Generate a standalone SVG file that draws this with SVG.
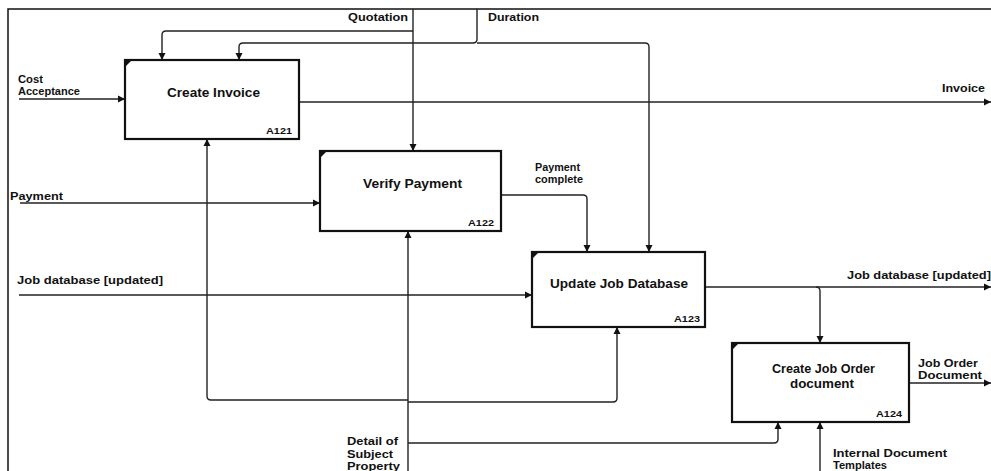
<svg xmlns="http://www.w3.org/2000/svg" width="991" height="471" viewBox="0 0 991 471">
<style>
.box{fill:#fff;stroke:#111;stroke-width:2.2}
.c{fill:none;stroke:#222;stroke-width:1.4}
.t{font-family:"Liberation Sans",Arial,sans-serif;font-weight:bold;font-size:12px;fill:#111}
.l{font-family:"Liberation Sans",Arial,sans-serif;font-weight:bold;font-size:10px;fill:#111}
.id{font-family:"Liberation Sans",Arial,sans-serif;font-weight:bold;font-size:9px;fill:#111}
.tri{fill:#111}
</style>
<defs>
<marker id="a" markerWidth="8" markerHeight="8" refX="7" refY="4" orient="auto" markerUnits="userSpaceOnUse">
<path d="M0,0.5 L7,4 L0,7.5 Z" fill="#111"/>
</marker>
</defs>
<rect x="0" y="0" width="991" height="471" fill="#fff"/>
<path d="M8,471 V9 H991" fill="none" stroke="#111" stroke-width="1.5"/>

<g id="connectors">
<path class="c" d="M413,9 V151" marker-end="url(#a)"/>
<path class="c" d="M413,31 H166 Q162,31 162,35 V60" marker-end="url(#a)"/>
<path class="c" d="M477,9 V39 Q477,43 473,43 H243 Q239,43 239,47 V60" marker-end="url(#a)"/>
<path class="c" d="M477,43 H645 Q649,43 649,47 V252" marker-end="url(#a)"/>
<path class="c" d="M19,99 H125" marker-end="url(#a)"/>
<path class="c" d="M299,102 H991" marker-end="url(#a)"/>
<path class="c" d="M20,203 H320" marker-end="url(#a)"/>
<path class="c" d="M19,295 H532" marker-end="url(#a)"/>
<path class="c" d="M501,195 H583 Q587,195 587,199 V252" marker-end="url(#a)"/>
<path class="c" d="M408,471 V231" marker-end="url(#a)"/>
<path class="c" d="M408,400 H211 Q207,400 207,396 V139" marker-end="url(#a)"/>
<path class="c" d="M408,402 H613 Q617,402 617,398 V327" marker-end="url(#a)"/>
<path class="c" d="M408,443 H774 Q778,443 778,439 V422" marker-end="url(#a)"/>
<path class="c" d="M705,287 H991" marker-end="url(#a)"/>
<path class="c" d="M816,287 Q820,287 820,291 V343" marker-end="url(#a)"/>
<path class="c" d="M909,383 H991" marker-end="url(#a)"/>
<path class="c" d="M820,471 V422" marker-end="url(#a)"/>
</g>

<g id="labels">
<text class="l" x="348" y="21" textLength="60" lengthAdjust="spacingAndGlyphs">Quotation</text>
<text class="l" x="488" y="21" textLength="51" lengthAdjust="spacingAndGlyphs">Duration</text>
<text class="l" x="18" y="83" textLength="25" lengthAdjust="spacingAndGlyphs">Cost</text>
<text class="l" x="18" y="95" textLength="62" lengthAdjust="spacingAndGlyphs">Acceptance</text>
<text class="l" x="942" y="92" textLength="43" lengthAdjust="spacingAndGlyphs">Invoice</text>
<text class="l" x="10" y="200" textLength="53" lengthAdjust="spacingAndGlyphs">Payment</text>
<text class="l" x="17" y="284" textLength="146" lengthAdjust="spacingAndGlyphs">Job database [updated]</text>
<text class="l" x="535" y="171" font-size="9" textLength="45" lengthAdjust="spacingAndGlyphs">Payment</text>
<text class="l" x="535" y="183" font-size="9" textLength="48" lengthAdjust="spacingAndGlyphs">complete</text>
<text class="l" x="847" y="279" textLength="144" lengthAdjust="spacingAndGlyphs">Job database [updated]</text>
<text class="l" x="918" y="367" textLength="60" lengthAdjust="spacingAndGlyphs">Job Order</text>
<text class="l" x="918" y="379" textLength="64" lengthAdjust="spacingAndGlyphs">Document</text>
<text class="l" x="347" y="445" textLength="51" lengthAdjust="spacingAndGlyphs">Detail of</text>
<text class="l" x="347" y="458" textLength="46" lengthAdjust="spacingAndGlyphs">Subject</text>
<text class="l" x="347" y="470" textLength="53" lengthAdjust="spacingAndGlyphs">Property</text>
<text class="l" x="833" y="457" textLength="114" lengthAdjust="spacingAndGlyphs">Internal Document</text>
<text class="l" x="833" y="469" textLength="54" lengthAdjust="spacingAndGlyphs">Templates</text>
</g>

<g id="A121">
<rect class="box" x="125" y="60" width="174" height="79"/>
<path class="tri" d="M126,61 h5 l-5,5 z"/>
<text class="t" x="167" y="97" textLength="93" lengthAdjust="spacingAndGlyphs">Create Invoice</text>
<text class="id" x="266" y="134" textLength="26" lengthAdjust="spacingAndGlyphs">A121</text>
</g>

<g id="A122">
<rect class="box" x="320" y="151" width="181" height="80"/>
<path class="tri" d="M321,152 h5 l-5,5 z"/>
<text class="t" x="363" y="188" textLength="99" lengthAdjust="spacingAndGlyphs">Verify Payment</text>
<text class="id" x="468" y="226" textLength="26" lengthAdjust="spacingAndGlyphs">A122</text>
</g>

<g id="A123">
<rect class="box" x="532" y="252" width="173" height="75"/>
<path class="tri" d="M533,253 h5 l-5,5 z"/>
<text class="t" x="550" y="288" textLength="138" lengthAdjust="spacingAndGlyphs">Update Job Database</text>
<text class="id" x="674" y="322" textLength="26" lengthAdjust="spacingAndGlyphs">A123</text>
</g>

<g id="A124">
<rect class="box" x="732" y="343" width="177" height="79"/>
<path class="tri" d="M733,344 h5 l-5,5 z"/>
<text class="t" x="772" y="373" textLength="103" lengthAdjust="spacingAndGlyphs">Create Job Order</text>
<text class="t" x="790" y="388" textLength="64" lengthAdjust="spacingAndGlyphs">document</text>
<text class="id" x="876" y="417" textLength="26" lengthAdjust="spacingAndGlyphs">A124</text>
</g>
</svg>
